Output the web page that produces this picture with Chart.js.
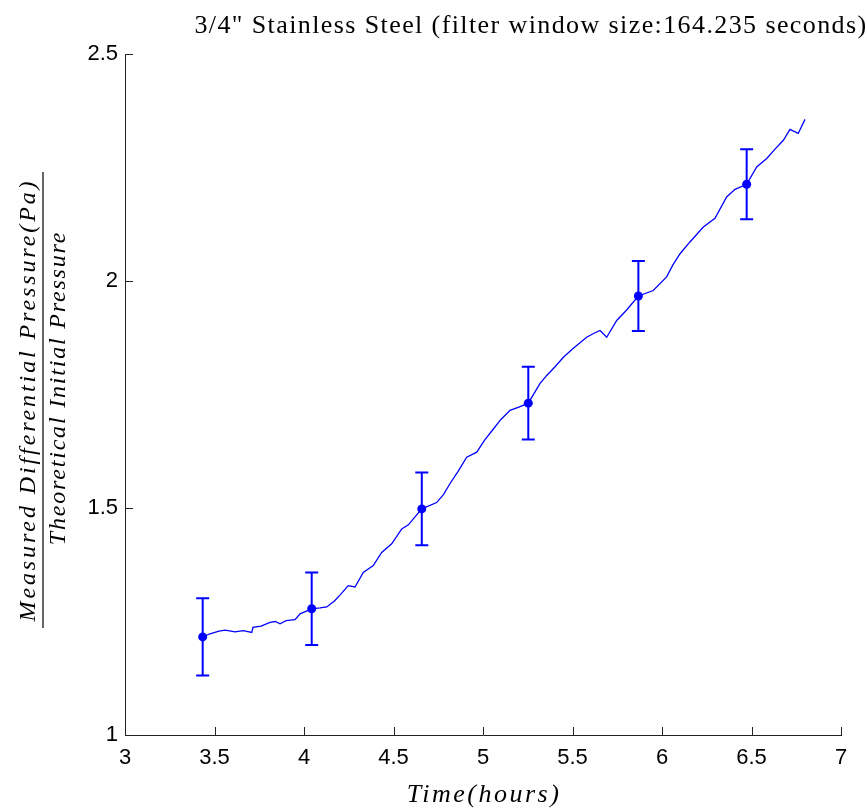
<!DOCTYPE html>
<html>
<head>
<meta charset="utf-8">
<script src="https://cdn.jsdelivr.net/npm/chart.js@4.4.0/dist/chart.umd.min.js"></script>
<style>
  html, body { margin: 0; padding: 0; background: #fff; }
  #wrap { width: 867px; height: 810px; }
</style>
</head>
<body>
<div id="wrap"><canvas id="chart" width="867" height="810"></canvas></div>
<script>
// datos (tiempo en horas, presion normalizada)
const timeHours = [3.434, 3.475, 3.525, 3.56, 3.615, 3.66, 3.708, 3.715, 3.76, 3.81, 3.84, 3.866, 3.9, 3.95, 3.978, 4.043,
  4.09, 4.127, 4.17, 4.201, 4.247, 4.285, 4.331, 4.387, 4.434, 4.49, 4.546, 4.583, 4.658,
  4.741, 4.78, 4.816, 4.86, 4.909, 4.965, 5.01, 5.058, 5.1, 5.151, 5.2, 5.253,
  5.318, 5.356, 5.4, 5.449, 5.5, 5.579, 5.62, 5.654, 5.691, 5.747, 5.8, 5.868,
  5.951, 6.026, 6.06, 6.101, 6.156, 6.231, 6.296, 6.361, 6.408, 6.473,
  6.529, 6.585, 6.63, 6.678, 6.715, 6.761, 6.799];
const pressureRatio = [1.216, 1.223, 1.229, 1.231, 1.227, 1.230, 1.226, 1.237, 1.24, 1.248, 1.25, 1.245, 1.252, 1.254, 1.267, 1.278,
  1.280, 1.282, 1.295, 1.308, 1.329, 1.326, 1.358, 1.373, 1.402, 1.421, 1.454, 1.463, 1.498,
  1.512, 1.53, 1.554, 1.58, 1.612, 1.623, 1.65, 1.674, 1.695, 1.715, 1.722, 1.731,
  1.774, 1.792, 1.81, 1.832, 1.85, 1.876, 1.885, 1.891, 1.876, 1.913, 1.935, 1.967,
  1.979, 2.009, 2.035, 2.060, 2.086, 2.119, 2.138, 2.185, 2.202, 2.213,
  2.251, 2.270, 2.29, 2.310, 2.334, 2.325, 2.356];

// puntos con barras de error
const markerTime = [3.434, 4.043, 4.658, 5.253, 5.868, 6.473];
const markerValue = [1.216, 1.278, 1.498, 1.731, 1.967, 2.213];
const markerErr = [0.085, 0.08, 0.08, 0.08, 0.077, 0.077];

const xTicks = [3, 3.5, 4, 4.5, 5, 5.5, 6, 6.5, 7];
const yTicks = [1, 1.5, 2, 2.5];

const chartTitle = '3/4" Stainless Steel (filter window size:164.235 seconds)';
const xLabel = 'Time(hours)';
const yLabelTop = 'Measured Differential Pressure(Pa)';
const yLabelBottom = 'Theoretical Initial Pressure';

const blue = '#0000ff';
const tickFont = { family: '"Liberation Sans", Arial, sans-serif', size: 22 };

// Titulo y etiquetas de los ejes
const textPlugin = {
  id: 'textPlugin',
  afterDraw(chart) {
    const ctx = chart.ctx;
    const area = chart.chartArea;
    ctx.save();
    ctx.fillStyle = '#000';
    ctx.font = '26px "Liberation Serif", serif';
    ctx.textAlign = 'center';
    ctx.textBaseline = 'alphabetic';
    ctx.letterSpacing = '1.4px';
    ctx.fillText(chartTitle, 531, 33);

    ctx.font = 'italic 26px "Liberation Serif", serif';
    ctx.letterSpacing = '2.5px';
    ctx.fillText(xLabel, 484, 802);

    // fraccion del eje y
    ctx.translate(43, 400);
    ctx.rotate(-Math.PI / 2);
    ctx.font = 'italic 24px "Liberation Serif", serif';
    ctx.textBaseline = 'middle';
    ctx.letterSpacing = '2.9px';
    ctx.fillText(yLabelTop, 0, -14);
    ctx.letterSpacing = '1.8px';
    ctx.fillText(yLabelBottom, 12, 16);
    ctx.strokeStyle = '#000';
    ctx.lineWidth = 1.2;
    ctx.beginPath();
    ctx.moveTo(-228, 0);
    ctx.lineTo(228, 0);
    ctx.stroke();
    ctx.restore();
  }
};

// Marcas de los ejes hacia adentro
const inwardTicks = {
  id: 'inwardTicks',
  afterDraw(chart) {
    const ctx = chart.ctx;
    const x = chart.scales.x;
    const y = chart.scales.y;
    const area = chart.chartArea;
    ctx.save();
    ctx.strokeStyle = '#222';
    ctx.lineWidth = 1;
    ctx.beginPath();
    xTicks.forEach(v => {
      const px = Math.round(x.getPixelForValue(v)) + 0.5;
      ctx.moveTo(px, area.bottom);
      ctx.lineTo(px, area.bottom - 8);
    });
    yTicks.forEach(v => {
      const py = Math.round(y.getPixelForValue(v)) + 0.5;
      ctx.moveTo(area.left, py);
      ctx.lineTo(area.left + 8, py);
    });
    ctx.stroke();
    ctx.restore();
  }
};

// Barras de error
const errorBars = {
  id: 'errorBars',
  afterDatasetsDraw(chart) {
    const ctx = chart.ctx;
    const x = chart.scales.x;
    const y = chart.scales.y;
    ctx.save();
    ctx.strokeStyle = blue;
    ctx.lineWidth = 2;
    markerTime.forEach((t, i) => {
      const px = x.getPixelForValue(t);
      const top = y.getPixelForValue(markerValue[i] + markerErr[i]);
      const bot = y.getPixelForValue(markerValue[i] - markerErr[i]);
      ctx.beginPath();
      ctx.moveTo(px, top);
      ctx.lineTo(px, bot);
      ctx.moveTo(px - 6.5, top);
      ctx.lineTo(px + 6.5, top);
      ctx.moveTo(px - 6.5, bot);
      ctx.lineTo(px + 6.5, bot);
      ctx.stroke();
    });
    ctx.restore();
  }
};

const ctx = document.getElementById('chart').getContext('2d');
const chart = new Chart(ctx, {
  type: 'scatter',
  data: {
    datasets: [
      {
        label: 'filtered',
        data: timeHours.map((t, i) => ({ x: t, y: pressureRatio[i] })),
        showLine: true,
        borderColor: blue,
        borderWidth: 1.3,
        pointRadius: 0,
        tension: 0,
      },
      {
        label: 'points',
        data: markerTime.map((t, i) => ({ x: t, y: markerValue[i] })),
        showLine: false,
        pointRadius: 4.5,
        backgroundColor: blue,
        borderColor: blue,
        borderWidth: 0,
      },
    ],
  },
  options: {
    responsive: false,
    animation: false,
    devicePixelRatio: 1,
    layout: { padding: { top: 54, right: 26, left: 0, bottom: 0 } },
    plugins: {
      legend: { display: false },
      tooltip: { enabled: false },
    },
    scales: {
      x: {
        type: 'linear',
        min: 3,
        max: 7,
        afterBuildTicks: s => { s.ticks = xTicks.map(v => ({ value: v })); },
        afterFit: s => { s.height = 75; },
        grid: { display: false, drawTicks: false },
        border: { display: true, color: '#222', width: 1 },
        ticks: { color: '#000', font: tickFont, padding: 10, maxRotation: 0, callback: v => String(v) },
      },
      y: {
        type: 'linear',
        min: 1,
        max: 2.5,
        afterBuildTicks: s => { s.ticks = yTicks.map(v => ({ value: v })); },
        afterFit: s => { s.width = 125; },
        grid: { display: false, drawTicks: false },
        border: { display: true, color: '#222', width: 1 },
        ticks: { color: '#000', font: tickFont, padding: 7, callback: v => String(v) },
      },
    },
  },
  plugins: [textPlugin, inwardTicks, errorBars],
});
</script>
</body>
</html>
